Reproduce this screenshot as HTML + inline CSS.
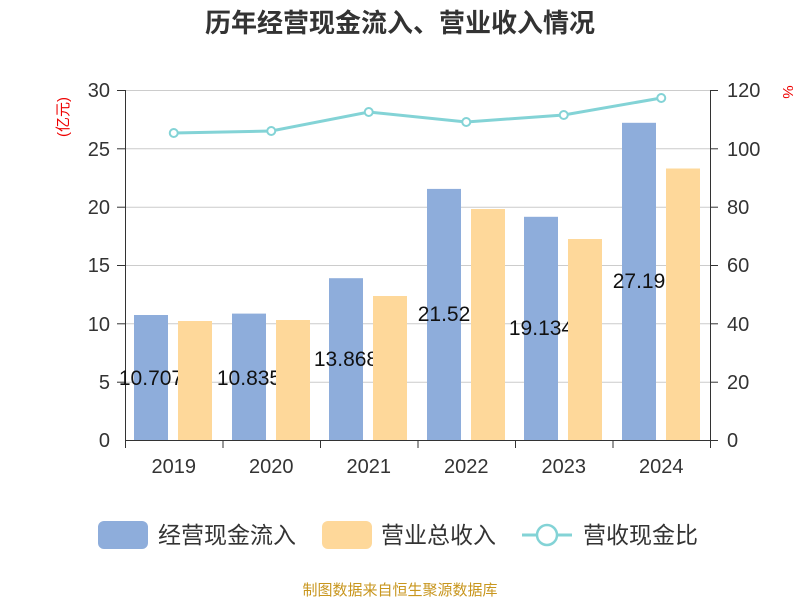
<!DOCTYPE html>
<html><head><meta charset="utf-8"><style>
body{margin:0;background:#fff}
text{font-family:"Liberation Sans","Noto Sans CJK SC",sans-serif}
</style></head><body>
<svg width="800" height="600" xmlns="http://www.w3.org/2000/svg">
<text x="400" y="32" text-anchor="middle" font-size="26" font-weight="bold" fill="#333">历年经营现金流入、营业收入情况</text>
<g stroke="#ccc" stroke-width="1">
<line x1="125" x2="710" y1="90.5" y2="90.5"/><line x1="125" x2="710" y1="148.8" y2="148.8"/>
<line x1="125" x2="710" y1="207.2" y2="207.2"/><line x1="125" x2="710" y1="265.5" y2="265.5"/>
<line x1="125" x2="710" y1="323.8" y2="323.8"/><line x1="125" x2="710" y1="382.2" y2="382.2"/>
</g>
<g stroke="#333" stroke-width="1">
<line x1="125.5" x2="125.5" y1="90" y2="440"/><line x1="710.5" x2="710.5" y1="90" y2="440"/>
<line x1="117" x2="125" y1="90.5" y2="90.5"/><line x1="117" x2="125" y1="148.8" y2="148.8"/>
<line x1="117" x2="125" y1="207.2" y2="207.2"/><line x1="117" x2="125" y1="265.5" y2="265.5"/>
<line x1="117" x2="125" y1="323.8" y2="323.8"/><line x1="117" x2="125" y1="382.2" y2="382.2"/>
<line x1="710" x2="718" y1="90.5" y2="90.5"/><line x1="710" x2="718" y1="148.8" y2="148.8"/>
<line x1="710" x2="718" y1="207.2" y2="207.2"/><line x1="710" x2="718" y1="265.5" y2="265.5"/>
<line x1="710" x2="718" y1="323.8" y2="323.8"/><line x1="710" x2="718" y1="382.2" y2="382.2"/>
<line x1="125" x2="718" y1="440.5" y2="440.5"/>
<line x1="125.5" x2="125.5" y1="440" y2="448"/><line x1="223" x2="223" y1="440" y2="448"/>
<line x1="320.5" x2="320.5" y1="440" y2="448"/><line x1="418" x2="418" y1="440" y2="448"/>
<line x1="515.5" x2="515.5" y1="440" y2="448"/><line x1="613" x2="613" y1="440" y2="448"/>
<line x1="710.5" x2="710.5" y1="440" y2="448"/>
</g>
<g font-size="20" fill="#333" text-anchor="end">
<text x="110" y="97">30</text><text x="110" y="156">25</text><text x="110" y="214">20</text>
<text x="110" y="272">15</text><text x="110" y="331">10</text><text x="110" y="389">5</text><text x="110" y="447">0</text>
</g>
<g font-size="20" fill="#333">
<text x="727" y="97">120</text><text x="727" y="156">100</text><text x="727" y="214">80</text>
<text x="727" y="272">60</text><text x="727" y="331">40</text><text x="727" y="389">20</text><text x="727" y="447">0</text>
</g>
<text transform="translate(68,117) rotate(-90)" text-anchor="middle" font-size="15" fill="#e00">(亿元)</text>
<text transform="translate(783,92) rotate(90)" text-anchor="middle" font-size="15" fill="#e00">%</text>
<g font-size="20" fill="#333" text-anchor="middle">
<text x="173.75" y="473">2019</text><text x="271.25" y="473">2020</text><text x="368.75" y="473">2021</text>
<text x="466.25" y="473">2022</text><text x="563.75" y="473">2023</text><text x="661.25" y="473">2024</text>
</g>
<g fill="#8eaddb">
<rect x="134" y="315" width="34" height="125"/><rect x="232" y="313.6" width="34" height="126.4"/>
<rect x="329" y="278.2" width="34" height="161.8"/><rect x="427" y="188.9" width="34" height="251.1"/>
<rect x="524" y="216.8" width="34" height="223.2"/><rect x="622" y="122.8" width="34" height="317.2"/>
</g>
<g font-size="21" fill="#111" text-anchor="middle">
<text x="151" y="385">10.707</text><text x="249" y="385">10.835</text><text x="346" y="366">13.868</text>
<text x="444" y="321">21.52</text><text x="541" y="335">19.134</text><text x="639" y="288">27.19</text>
</g>
<g fill="#fed89a">
<rect x="178" y="321" width="34" height="119"/><rect x="276" y="320" width="34" height="120"/>
<rect x="373" y="296" width="34" height="144"/><rect x="471" y="209" width="34" height="231"/>
<rect x="568" y="239" width="34" height="201"/><rect x="666" y="168.5" width="34" height="271.5"/>
</g>
<polyline fill="none" stroke="#83d3d6" stroke-width="3" points="173.75,133 271.25,131 368.75,112 466.25,122 563.75,115 661.25,98"/>
<g fill="#fff" stroke="#83d3d6" stroke-width="2">
<circle cx="173.75" cy="133" r="4"/><circle cx="271.25" cy="131" r="4"/><circle cx="368.75" cy="112" r="4"/>
<circle cx="466.25" cy="122" r="4"/><circle cx="563.75" cy="115" r="4"/><circle cx="661.25" cy="98" r="4"/>
</g>
<rect x="98" y="521" width="50" height="28" rx="6" fill="#8eaddb"/>
<text x="158" y="543" font-size="23" fill="#333">经营现金流入</text>
<rect x="322" y="521" width="50" height="28" rx="6" fill="#fed89a"/>
<text x="381" y="543" font-size="23" fill="#333">营业总收入</text>
<line x1="522" x2="572" y1="535" y2="535" stroke="#83d3d6" stroke-width="3"/>
<circle cx="547" cy="535" r="10" fill="#fff" stroke="#83d3d6" stroke-width="2.5"/>
<text x="583" y="543" font-size="23" fill="#333">营收现金比</text>
<text x="400" y="595" text-anchor="middle" font-size="15" fill="#c8961e">制图数据来自恒生聚源数据库</text>
</svg>
</body></html>
